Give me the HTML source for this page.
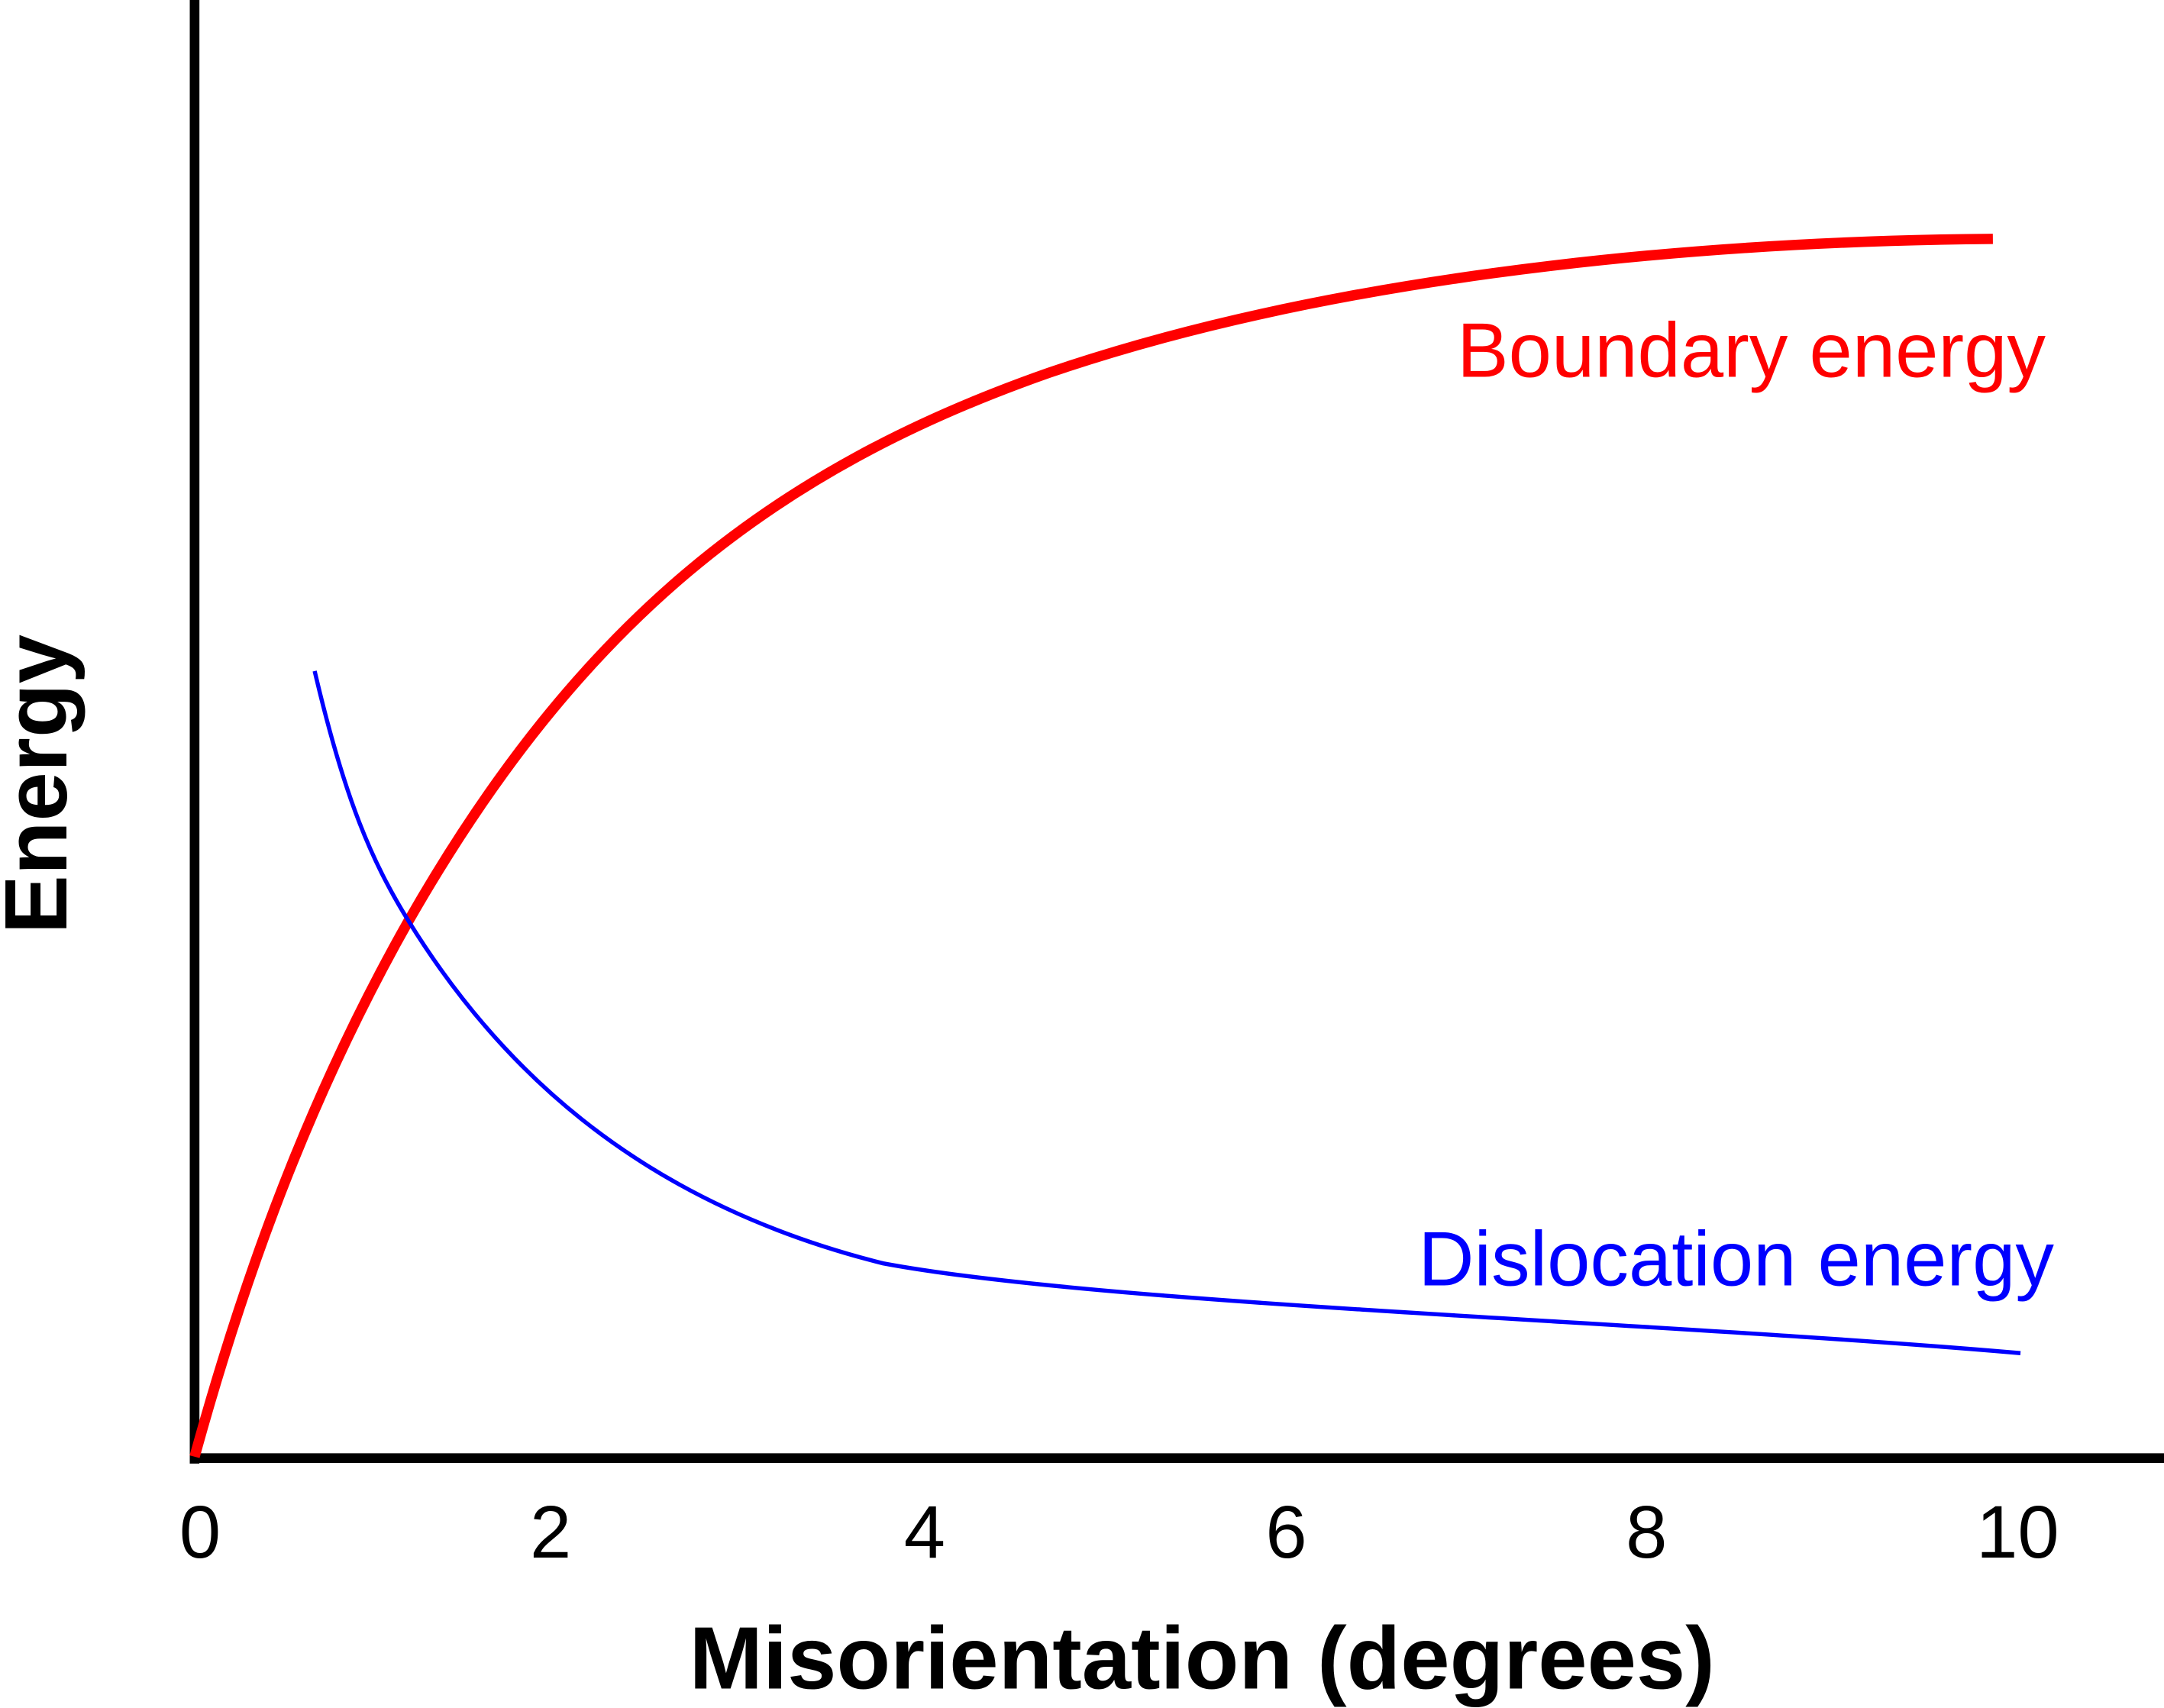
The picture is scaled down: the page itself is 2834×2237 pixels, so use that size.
<!DOCTYPE html>
<html><head><style>html,body{margin:0;padding:0;background:#fff;}svg{display:block;}</style></head>
<body>
<svg width="2834" height="2237" viewBox="0 0 1568 1237" preserveAspectRatio="none" xmlns="http://www.w3.org/2000/svg">
<rect width="1568" height="1237" fill="#fff"/>
<line x1="141" y1="0" x2="141" y2="1060" stroke="#000" stroke-width="7"/>
<line x1="138" y1="1056" x2="1568" y2="1056" stroke="#000" stroke-width="7"/>
<path d="M141,1055 C170,950 215,810 296,667 C420,450 560,340 760,270 C950,205 1200,175 1444,173" fill="none" stroke="#f00" stroke-width="7.5"/>
<path d="M228,486 C250,580 270,625 296,667 C372,790 480,875 640,915 C800,945 1200,957 1464,980" fill="none" stroke="#00f" stroke-width="3"/>
<g font-family="Liberation Sans, sans-serif">
<text x="1269" y="273" font-size="56" fill="#f00" text-anchor="middle">Boundary energy</text>
<text x="1258" y="931" font-size="56" fill="#00f" text-anchor="middle">Dislocation energy</text>
<g font-size="54" fill="#000" text-anchor="middle">
<text x="145" y="1128">0</text><text x="399" y="1128">2</text><text x="670" y="1128">4</text>
<text x="932" y="1128">6</text><text x="1193" y="1128">8</text><text x="1462" y="1128">10</text>
</g>
<text x="871" y="1223" font-size="64" font-weight="bold" fill="#000" text-anchor="middle">Misorientation (degrees)</text>
<text transform="translate(48,568) rotate(-90)" font-size="64" font-weight="bold" fill="#000" text-anchor="middle">Energy</text>
</g>
</svg>
</body></html>
